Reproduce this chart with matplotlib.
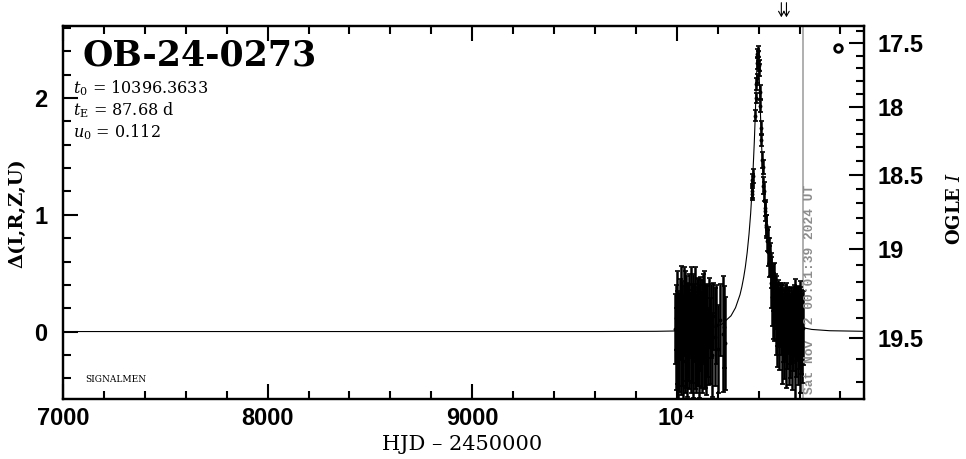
import numpy as np
import matplotlib
matplotlib.use("Agg")
import matplotlib.pyplot as plt
from matplotlib.ticker import FixedLocator, FixedFormatter, MultipleLocator
import matplotlib.transforms as mtransforms

plt.rcParams['mathtext.fontset'] = 'dejavuserif'

# ---------------- data ----------------
event_name = "OB-24-0273"
t0_text = "10396.3633"
tE_text = "87.68 d"
u0_text = "0.112"

# season-1 baseline photometry
t1 = [9993, 9995, 9998, 10001, 10003, 10006, 10009, 10011, 10014, 10017,
      10019, 10022, 10025, 10027, 10030, 10033, 10035, 10038, 10041, 10043,
      10046, 10049, 10051, 10054, 10057, 10059, 10062, 10065, 10067, 10070,
      10073, 10075, 10078, 10081, 10083, 10086, 10089, 10091, 10094, 10097,
      10099, 10102, 10105, 10107, 10110, 10113, 10115, 10118, 10121, 10123,
      10126, 10129, 10131, 10134, 10137, 10139, 10142, 10145, 10148, 10152,
      10156, 10160, 10165, 10171, 10178, 10186, 10193, 10201, 10212, 10224,
      10231, 10236]
d1 = [0.02, -0.15, 0.12, -0.05, 0.20, -0.22, 0.08, -0.10, 0.15, 0.03,
      -0.18, 0.25, -0.02, 0.10, -0.25, 0.18, 0.05, -0.12, 0.22, -0.08,
      0.00, 0.14, -0.20, 0.09, -0.03, 0.19, -0.14, 0.06, 0.24, -0.10,
      0.11, -0.06, 0.16, -0.21, 0.04, 0.13, -0.09, 0.21, -0.16, 0.07,
      -0.01, 0.17, -0.12, 0.10, -0.24, 0.05, 0.20, -0.07, 0.12, -0.17,
      0.02, 0.15, -0.11, 0.23, -0.04, 0.08, -0.19, 0.11, 0.01, -0.13,
      0.16, -0.08, 0.09, -0.20, 0.13, -0.05, 0.06, -0.15, 0.10, -0.02,
      0.04, -0.10]
e1 = [0.30, 0.35, 0.28, 0.40, 0.32, 0.38, 0.25, 0.42, 0.30, 0.27,
      0.36, 0.31, 0.45, 0.29, 0.33, 0.37, 0.26, 0.41, 0.30, 0.34,
      0.48, 0.28, 0.36, 0.32, 0.39, 0.30, 0.35, 0.27, 0.31, 0.43,
      0.29, 0.38, 0.33, 0.36, 0.30, 0.28, 0.40, 0.34, 0.37, 0.31,
      0.46, 0.29, 0.35, 0.30, 0.33, 0.39, 0.27, 0.41, 0.32, 0.36,
      0.30, 0.34, 0.38, 0.29, 0.44, 0.31, 0.35, 0.28, 0.40, 0.33,
      0.30, 0.37, 0.32, 0.36, 0.29, 0.42, 0.34, 0.38, 0.31, 0.50,
      0.35, 0.40]

# peak photometry
t2 = [10366, 10368, 10370, 10372, 10384, 10386, 10388, 10390, 10392, 10394,
      10396, 10398, 10400, 10402, 10405, 10408, 10411, 10414, 10417, 10420,
      10423, 10426, 10429, 10432, 10435, 10438, 10441, 10444, 10447, 10450,
      10453, 10456, 10459]
d2 = [1.18, 1.20, 1.30, 1.33, 1.85, 2.00, 2.12, 2.17, 2.30, 2.38,
      2.40, 2.36, 2.28, 2.24, 2.05, 1.93, 1.74, 1.64, 1.47, 1.41,
      1.25, 1.20, 1.06, 1.03, 0.91, 0.90, 0.78, 0.79, 0.68, 0.69,
      0.60, 0.62, 0.52]
e2 = [0.05, 0.06, 0.05, 0.06, 0.05, 0.04, 0.05, 0.04, 0.05, 0.04,
      0.05, 0.04, 0.05, 0.05, 0.06, 0.05, 0.06, 0.05, 0.07, 0.06,
      0.07, 0.08, 0.07, 0.08, 0.09, 0.10, 0.09, 0.11, 0.12, 0.11,
      0.13, 0.14, 0.15]

# post-peak photometry
t3 = [10462, 10465, 10468, 10471, 10474, 10477, 10480, 10483, 10486, 10489,
      10492, 10495, 10498, 10501, 10504, 10507, 10510, 10513, 10516, 10519,
      10522, 10525, 10528, 10531, 10534, 10537, 10540, 10543, 10546, 10549,
      10552, 10555, 10558, 10561, 10564, 10567, 10570, 10573, 10576, 10579,
      10582, 10585, 10588, 10591, 10594, 10597, 10600, 10603, 10606, 10609,
      10612, 10615]
d3 = [0.42, 0.30, 0.38, 0.22, 0.35, 0.18, 0.28, 0.10, 0.25, 0.15,
      0.05, 0.22, 0.12, -0.02, 0.18, 0.08, 0.14, -0.05, 0.20, 0.03,
      0.10, -0.08, 0.15, 0.06, -0.03, 0.12, 0.00, 0.09, -0.10, 0.13,
      0.02, -0.06, 0.11, 0.04, -0.12, 0.08, -0.01, 0.14, -0.07, 0.05,
      0.10, -0.04, 0.07, -0.09, 0.12, 0.01, -0.05, 0.09, -0.02, 0.06,
      -0.08, 0.03]
e3 = [0.22, 0.25, 0.20, 0.28, 0.24, 0.26, 0.21, 0.30, 0.23, 0.27,
      0.35, 0.22, 0.25, 0.31, 0.24, 0.28, 0.26, 0.40, 0.22, 0.29,
      0.27, 0.33, 0.25, 0.30, 0.45, 0.26, 0.32, 0.28, 0.36, 0.24,
      0.30, 0.34, 0.27, 0.31, 0.38, 0.29, 0.33, 0.26, 0.52, 0.30,
      0.28, 0.35, 0.31, 0.37, 0.27, 0.33, 0.48, 0.29, 0.34, 0.30,
      0.36, 0.32]

# model light curve
model_t = [7060, 9626, 9900, 10000, 10045, 10089, 10133, 10177, 10221, 10265,
           10287, 10309, 10318, 10327, 10335, 10344, 10353, 10361, 10370, 10379,
           10384, 10388, 10392, 10396, 10401, 10405, 10409, 10414, 10423, 10431,
           10440, 10449, 10458, 10466, 10484, 10506, 10528, 10550, 10572, 10615,
           10660, 10747, 10915]
model_d = [0.0, 0.0, 0.002, 0.005, 0.007, 0.011, 0.018, 0.033, 0.064, 0.135,
           0.204, 0.316, 0.383, 0.465, 0.553, 0.677, 0.835, 1.012, 1.275, 1.63,
           1.874, 2.090, 2.286, 2.381, 2.274, 2.075, 1.860, 1.617, 1.265, 1.032,
           0.830, 0.673, 0.550, 0.462, 0.316, 0.204, 0.135, 0.091, 0.064, 0.033,
           0.018, 0.007, 0.002]

now_hjd = 10617
now_text = "Sat Nov  2 00:01:39 2024 UT"
arrow_hjd = [10511, 10536]
legend_symbol = (10790, 2.43)

x_ticks = [7000, 8000, 9000, 10000]
x_ticklabels = ["7000", "8000", "9000", "10\u2074"]
y_ticks = [0, 1, 2]
y_ticklabels = ["0", "1", "2"]
mag_ticks = [17.5, 18.0, 18.5, 19.0, 19.5]
mag_ticklabels = ["17.5", "18", "18.5", "19", "19.5"]

# right-axis calibration (OGLE I baseline & source fraction)
I_BASE = 19.469
F_SRC = 0.588


def mag_to_delta(I):
    I = np.asarray(I, dtype=float)
    return 2.5 * np.log10((10 ** (-0.4 * (I - I_BASE)) - (1 - F_SRC)) / F_SRC)


# ---------------- figure ----------------
W, H = 966, 459
fig = plt.figure(figsize=(W / 100, H / 100), dpi=100)
L, R, T, B = 63, 864, 26, 399
ax = fig.add_axes([L / W, 1 - B / H, (R - L) / W, (B - T) / H])
ax.set_xlim(7000, 10915)
ax.set_ylim(-0.578, 2.618)

tick_font = dict(family=['Liberation Sans', 'DejaVu Sans'], weight='bold', size=17)
serif = ['DejaVu Serif']

err_kw = dict(fmt='o', ms=1.8, color='black', ecolor='black', elinewidth=1.8,
              capsize=1.8, capthick=1.2, zorder=3)
ax.errorbar(t1, d1, yerr=e1, **err_kw)
ax.errorbar(t2, d2, yerr=e2, **err_kw)
ax.errorbar(t3, d3, yerr=e3, **err_kw)
ax.plot(model_t, model_d, color='black', lw=0.8, zorder=4)

ax.axvline(now_hjd, color='#9a9a9a', lw=1.1, zorder=2)
blend = mtransforms.blended_transform_factory(ax.transData, ax.transAxes)
ax.text(now_hjd + 36, 0.013, now_text, rotation=90, ha='center', va='bottom',
        transform=blend, color='#8c8c8c', fontsize=9.3, fontweight='bold',
        family=['Liberation Mono', 'DejaVu Sans Mono'])

ax.plot([legend_symbol[0]], [legend_symbol[1]], 'o', mfc='white', mec='black',
        ms=5.5, mew=2.0, zorder=5)

for xa in arrow_hjd:
    ax.annotate('', xy=(xa, 1.016), xycoords=blend, xytext=(xa, 1.07),
                textcoords=blend,
                arrowprops=dict(arrowstyle='->,head_length=0.35,head_width=0.2',
                                lw=0.8, color='black'),
                annotation_clip=False)

# axes styling
for sp in ax.spines.values():
    sp.set_linewidth(1.6)
ax.xaxis.set_major_locator(FixedLocator(x_ticks))
ax.xaxis.set_major_formatter(FixedFormatter(x_ticklabels))
ax.xaxis.set_minor_locator(MultipleLocator(200))
ax.yaxis.set_major_locator(FixedLocator(y_ticks))
ax.yaxis.set_major_formatter(FixedFormatter(y_ticklabels))
ax.yaxis.set_minor_locator(MultipleLocator(0.2))
ax.tick_params(which='both', direction='in', top=True, bottom=True,
               left=True, right=False, width=1.5)
ax.tick_params(which='major', length=11)
ax.tick_params(which='minor', length=5.5)
ax.tick_params(axis='x', which='major', pad=6)
ax.tick_params(axis='y', which='major', pad=11)
for lab in ax.get_xticklabels() + ax.get_yticklabels():
    lab.set_fontproperties(matplotlib.font_manager.FontProperties(**tick_font))

ax2 = ax.twinx()
ax2.set_ylim(ax.get_ylim())
ax2.yaxis.set_major_locator(FixedLocator(mag_to_delta(mag_ticks)))
ax2.yaxis.set_major_formatter(FixedFormatter(mag_ticklabels))
minor_mags = np.round(np.arange(17.4, 19.75, 0.1), 1)
ax2.yaxis.set_minor_locator(FixedLocator(mag_to_delta(minor_mags)))
ax2.tick_params(which='both', direction='in', right=True, left=False, width=1.5)
ax2.tick_params(which='major', length=11, pad=10)
ax2.tick_params(which='minor', length=5.5)
for lab in ax2.get_yticklabels():
    lab.set_fontproperties(matplotlib.font_manager.FontProperties(**tick_font))
for sp in ax2.spines.values():
    sp.set_linewidth(1.6)

# texts
ax.text((83 - L) / (R - L), (B - 55) / (B - T), event_name, transform=ax.transAxes,
        ha='left', va='center', family=serif, fontweight='bold', fontsize=25)
par_x = (73 - L) / (R - L)
ax.text(par_x, (B - 88) / (B - T), r"$t_0$ = " + t0_text, transform=ax.transAxes,
        ha='left', va='center', family=serif, fontsize=11.5)
ax.text(par_x, (B - 110) / (B - T), r"$t_{\rm E}$ = " + tE_text, transform=ax.transAxes,
        ha='left', va='center', family=serif, fontsize=11.5)
ax.text(par_x, (B - 132) / (B - T), r"$u_0$ = " + u0_text, transform=ax.transAxes,
        ha='left', va='center', family=serif, fontsize=11.5)
ax.text((85 - L) / (R - L), (B - 380) / (B - T), "SIGNALMEN", transform=ax.transAxes,
        ha='left', va='center', family=serif, fontsize=6.5)

fig.text(462 / W, 1 - 444 / H, "HJD \u2013 2450000", ha='center', va='center',
         family=serif, fontsize=15)
fig.text(17 / W, 1 - 213 / H, "\u0394(I,R,Z,U)", rotation=90, ha='center', va='center',
         family=serif, fontweight='bold', fontsize=14)
fig.text(955 / W, 1 - 208 / H, r"OGLE $I$", rotation=90, ha='center', va='center',
         family=serif, fontweight='bold', fontsize=13)

fig.savefig("out.png", dpi=100)
